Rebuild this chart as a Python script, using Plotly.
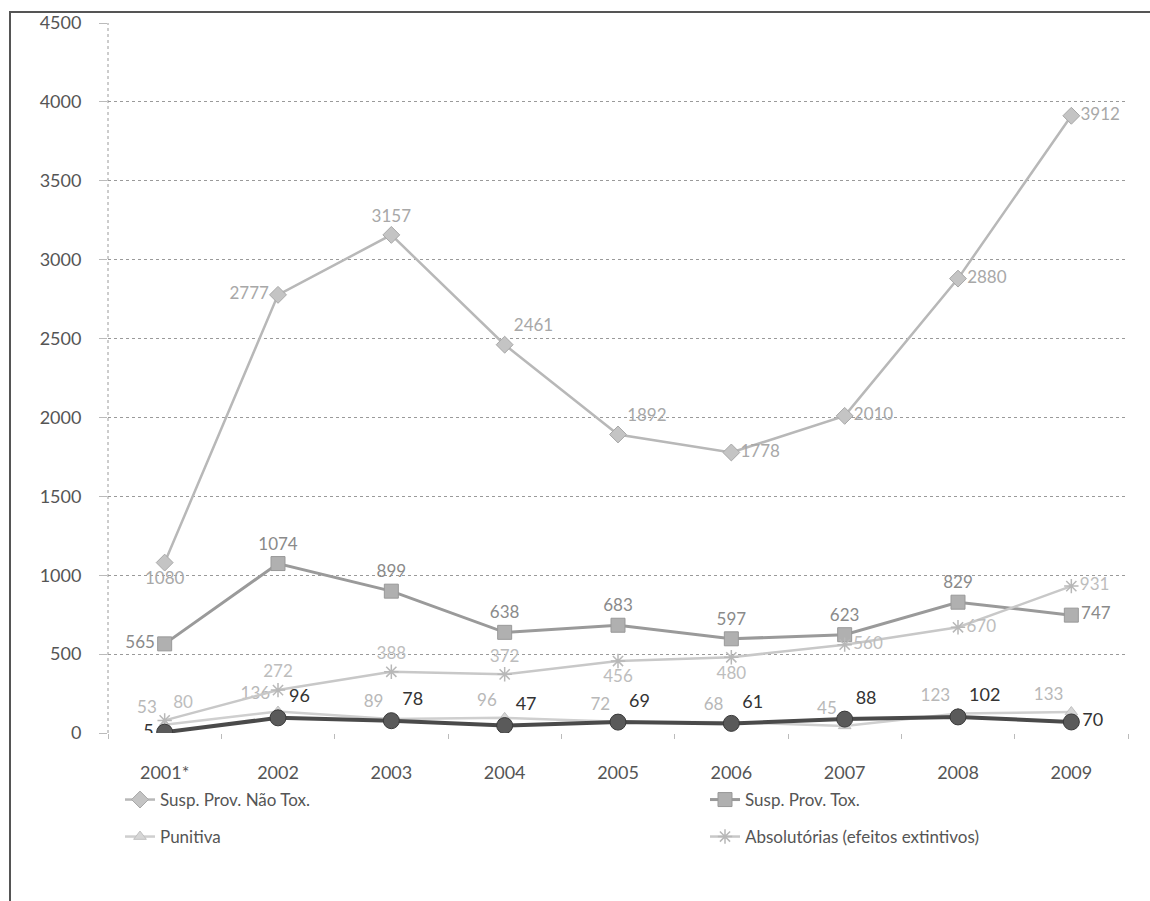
import plotly.graph_objects as go

years = ["2001*", "2002", "2003", "2004", "2005", "2006", "2007", "2008", "2009"]
nao_tox = [1080, 2777, 3157, 2461, 1892, 1778, 2010, 2880, 3912]
tox = [565, 1074, 899, 638, 683, 597, 623, 829, 747]
punitiva = [53, 136, 89, 96, 72, 68, 45, 123, 133]
absolutorias = [80, 272, 388, 372, 456, 480, 560, 670, 931]
outros = [5, 96, 78, 47, 69, 61, 88, 102, 70]

FONT = "Lato"
L, R, T, B = 108, 22, 23, 168
W, H = 1150, 901
PW = W - L - R
PH = H - T - B

def px_x(p):
    return (p - L) / PW

def px_y(p):
    return (H - B - p) / PH

fig = go.Figure()

fig.add_trace(go.Scatter(
    x=years, y=nao_tox, name="Susp. Prov. Não Tox.", mode="lines+markers+text",
    line=dict(color="#b8b8b8", width=2.5),
    marker=dict(symbol="diamond", size=13, color="#c4c4c4", line=dict(color="#a8a8a8", width=1)),
    text=[str(v) for v in nao_tox],
    textposition=["bottom center", "middle left", "top center", "top right", "top right",
                  "middle right", "middle right", "middle right", "middle right"],
    textfont=dict(family=FONT, size=17, color="#a8a8a8"),
    legend="legend",
))
fig.add_trace(go.Scatter(
    x=years, y=tox, name="Susp. Prov. Tox.", mode="lines+markers+text",
    line=dict(color="#9a9a9a", width=3),
    marker=dict(symbol="square", size=14, color="#b0b0b0", line=dict(color="#999999", width=1)),
    text=[str(v) for v in tox],
    textposition=["middle left"] + ["top center"] * 7 + ["middle right"],
    textfont=dict(family=FONT, size=17, color="#8a8a8a"),
    legend="legend2",
))
fig.add_trace(go.Scatter(
    x=years, y=punitiva, name="Punitiva", mode="lines+markers+text",
    line=dict(color="#cfcfcf", width=2.5),
    marker=dict(symbol="triangle-up", size=11, color="#d6d6d6", line=dict(color="#c0c0c0", width=1)),
    text=[str(v) for v in punitiva],
    textposition="top left",
    textfont=dict(family=FONT, size=17, color="#b8b8b8"),
    legend="legend3",
))
fig.add_trace(go.Scatter(
    x=years, y=absolutorias, name="Absolutórias (efeitos extintivos)", mode="lines+markers+text",
    line=dict(color="#c8c8c8", width=2.5),
    marker=dict(symbol="asterisk-open", size=12, color="#b8b8b8", line=dict(color="#b8b8b8", width=1.5)),
    text=[str(v) for v in absolutorias],
    textposition=["top right", "top center", "top center", "top center", "bottom center",
                  "bottom center", "middle right", "middle right", "middle right"],
    textfont=dict(family=FONT, size=17, color="#bdbdbd"),
    legend="legend4",
))
fig.add_trace(go.Scatter(
    x=years, y=outros, name="", mode="lines+markers+text", showlegend=False,
    line=dict(color="#4a4a4a", width=4),
    marker=dict(symbol="circle", size=16, color="#5a5a5a", line=dict(color="#3a3a3a", width=1)),
    text=[str(v) for v in outros],
    textposition=["middle left"] + ["top right"] * 7 + ["middle right"],
    textfont=dict(family=FONT, size=18, color="#333333"),
))

legfont = dict(family=FONT, size=17, color="#555555")
row1, row2 = px_y(800), px_y(837)
col1, col2 = px_x(120), px_x(705)
common = dict(bgcolor="rgba(0,0,0,0)", font=legfont, yanchor="middle", xanchor="left")

fig.update_layout(
    width=W, height=H,
    margin=dict(l=L, r=R, t=T, b=B),
    paper_bgcolor="white", plot_bgcolor="white",
    font=dict(family=FONT, color="#555555"),
    legend=dict(x=col1, y=row1, **common),
    legend2=dict(x=col2, y=row1, **common),
    legend3=dict(x=col1, y=row2, **common),
    legend4=dict(x=col2, y=row2, **common),
    xaxis=dict(
        type="category", range=[-0.5, 8.5], showgrid=False, zeroline=False,
        showline=False, ticks="outside", tickson="boundaries", ticklen=5,
        tickcolor="#bbbbbb", tickfont=dict(family=FONT, size=18, color="#555555"),
        ticklabelstandoff=27,
    ),
    yaxis=dict(
        range=[0, 4500], dtick=500, showgrid=True, gridcolor="#9a9a9a",
        griddash="dot", gridwidth=1, zeroline=False, showline=False,
        ticks="outside", ticklen=8, tickcolor="#bbbbbb",
        tickfont=dict(family=FONT, size=18, color="#555555"),
        ticklabelstandoff=14,
    ),
    shapes=[
        dict(type="line", xref="paper", yref="paper", x0=0, x1=0, y0=0, y1=1,
             line=dict(color="#9a9a9a", width=1, dash="dot")),
        dict(type="rect", xref="paper", yref="paper",
             x0=px_x(10), x1=px_x(1200), y0=px_y(12), y1=px_y(1000),
             line=dict(color="#555555", width=2), layer="below"),
    ],
)

fig.write_html("out.html")
